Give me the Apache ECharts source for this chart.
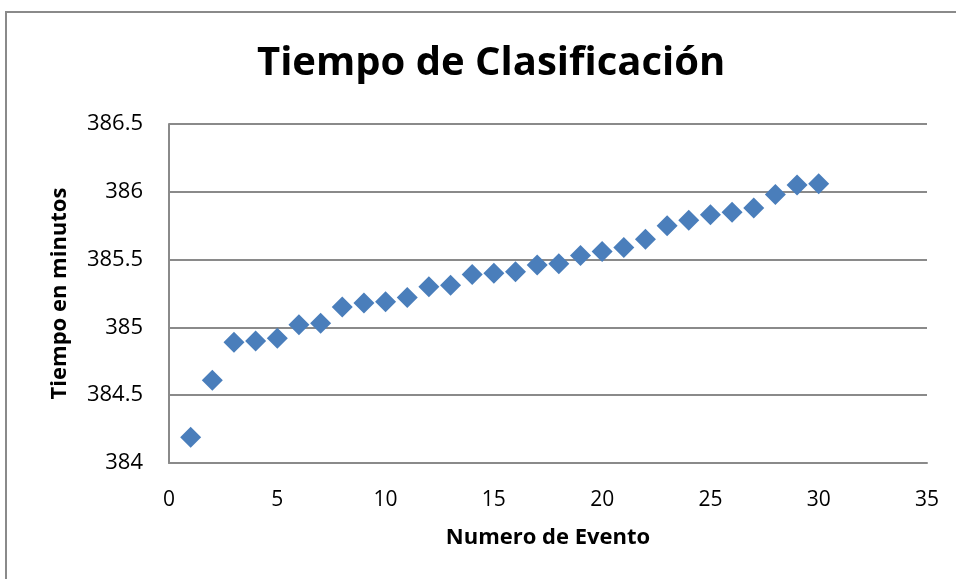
<!DOCTYPE html>
<html>
<head>
<meta charset="utf-8">
<script src="https://cdn.jsdelivr.net/npm/echarts@6/dist/echarts.min.js"></script>
<style>
	html,body{margin:0;padding:0;background:#fff;overflow:hidden;}
	#marco{position:absolute;left:5px;top:11px;width:1000px;height:1000px;border:2px solid #8a8a8a;}
	#tiempo{position:absolute;left:0;top:0;width:956px;height:579px;}
</style>
</head>
<body>
<div id="marco"></div>
<div id="tiempo"></div>
<script>
// datos
var eventos = [1,2,3,4,5,6,7,8,9,10,11,12,13,14,15,16,17,18,19,20,21,22,23,24,25,26,27,28,29,30];
var minutos = [384.19,384.61,384.89,384.90,384.92,385.02,385.03,385.15,385.18,385.19,
	385.22,385.30,385.31,385.39,385.40,385.41,385.46,385.47,385.53,385.56,
	385.59,385.65,385.75,385.79,385.83,385.85,385.88,385.98,386.05,386.06];
var ticksX = [0,5,10,15,20,25,30,35];
var ticksY = [384,384.5,385,385.5,386,386.5];

var puntos = [];
for(var i=0;i<eventos.length;i++){
	puntos.push([eventos[i], minutos[i]]);
}

var fuente = '"Open Sans", "Noto Sans", sans-serif';
var tiempo = echarts.init(document.getElementById('tiempo'));
tiempo.setOption({
	animation:false,
	title:{
		text:'Tiempo de Clasificación',
		left:252,
		top:39,
		textStyle:{fontFamily:fuente,fontSize:40,fontWeight:'bold',color:'#000'}
	},
	grid:{left:169,top:124,right:29,bottom:116},
	xAxis:{
		type:'value',
		min:ticksX[0],
		max:ticksX[ticksX.length-1],
		interval:5,
		name:'Numero de Evento',
		nameLocation:'middle',
		nameGap:64,
		nameTextStyle:{fontFamily:fuente,fontSize:22,fontWeight:'bold',color:'#000'},
		axisLine:{show:true,onZero:false,lineStyle:{color:'#8a8a8a',width:2}},
		axisTick:{show:false},
		splitLine:{show:false},
		axisLabel:{fontFamily:fuente,fontSize:21,color:'#000',margin:27}
	},
	yAxis:{
		type:'value',
		min:ticksY[0],
		max:ticksY[ticksY.length-1],
		interval:0.5,
		name:'Tiempo en minutos',
		nameLocation:'middle',
		nameGap:98,
		nameRotate:90,
		nameTextStyle:{fontFamily:fuente,fontSize:22,fontWeight:'bold',color:'#000'},
		axisLine:{show:true,lineStyle:{color:'#8a8a8a',width:2}},
		axisTick:{show:false},
		splitLine:{show:true,lineStyle:{color:'#8a8a8a',width:2}},
		axisLabel:{fontFamily:fuente,fontSize:22,color:'#000',margin:26}
	},
	series:[{
		name:'Tiempo',
		type:'scatter',
		symbol:'diamond',
		symbolSize:21,
		itemStyle:{color:'#4a7ebb',opacity:1},
		data:puntos
	}]
});
</script>
</body>
</html>
